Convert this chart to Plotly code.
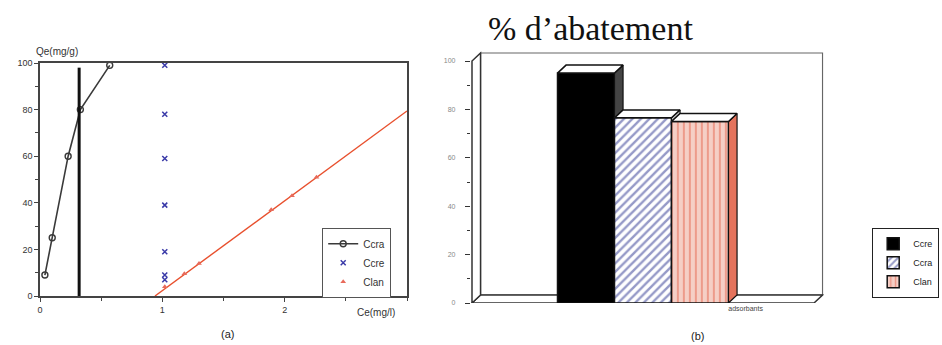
import plotly.graph_objects as go

W, H = 942, 345

# ---- (a) adsorption isotherms: Qe (mg/g) vs Ce (mg/l) ----
ccra_ce = [0.04, 0.10, 0.23, 0.33, 0.57]
ccra_qe = [9, 25, 60, 80, 99]

ccre_ce = [1.02, 1.02, 1.02, 1.02, 1.02, 1.02, 1.02]
ccre_qe = [99, 78, 59, 39, 19, 9, 7]

clan_ce = [1.02, 1.18, 1.30, 1.89, 2.06, 2.26]
clan_qe = [4, 9.5, 14, 37, 43, 51]

# linear fit drawn through the Clan points
clan_fit_ce = [0.94, 3.0]
clan_fit_qe = [0, 79.4]

# vertical reference line
ref_ce = [0.32, 0.32]
ref_qe = [0, 98]

x_ticks_a = [0, 1, 2]
y_ticks_a = [0, 20, 40, 60, 80, 100]

# ---- (b) removal percentage per adsorbent ----
bar_names = ["Ccre", "Ccra", "Clan"]
bar_values = [95, 76.5, 75]
group_label = ["adsorbants"]
y_ticks_b = [0, 20, 40, 60, 80, 100]


def px_x(p):
    return p / W


def px_y(p):
    return 1 - p / H


def poly_path(xs, ys):
    pts = " L ".join(f"{x},{y}" for x, y in zip(xs, ys))
    return f"M {pts} Z"


fig = go.Figure()

# ---------------- panel (a) ----------------
fig.add_trace(go.Scatter(
    x=ccra_ce, y=ccra_qe, name="Ccra", mode="lines+markers",
    line=dict(color="#3a3a3a", width=1.6),
    marker=dict(symbol="circle-open", size=6, color="#3a3a3a", line=dict(width=1.4)),
    cliponaxis=False, xaxis="x", yaxis="y", legend="legend"))
fig.add_trace(go.Scatter(
    x=ccre_ce, y=ccre_qe, name="Ccre", mode="markers",
    marker=dict(symbol="x-thin", size=5, color="#3a3aa8", line=dict(width=1.5, color="#3a3aa8")),
    cliponaxis=False, xaxis="x", yaxis="y", legend="legend"))
fig.add_trace(go.Scatter(
    x=clan_fit_ce, y=clan_fit_qe, mode="lines", showlegend=False,
    line=dict(color="#e8502e", width=1.4), xaxis="x", yaxis="y", hoverinfo="skip"))
fig.add_trace(go.Scatter(
    x=clan_ce, y=clan_qe, name="Clan", mode="markers",
    marker=dict(symbol="triangle-up", size=5, color="#e86a5a"),
    cliponaxis=False, xaxis="x", yaxis="y", legend="legend"))
fig.add_trace(go.Scatter(
    x=ref_ce, y=ref_qe, mode="lines", showlegend=False,
    line=dict(color="#111111", width=3), xaxis="x", yaxis="y", hoverinfo="skip"))

# ---------------- panel (b): pseudo-3D bars ----------------
bar_w = 1.0
dx, dy = 0.15, 3.3          # depth offset of the 3D extrusion (x units, y units)
x_left, x_floor_end = -2.0, 4.0
wall_top = 100 + dy
line_col = "#333333"

# box walls go underneath the bars as shapes
wall_shapes = [
    # back wall
    dict(type="path", xref="x2", yref="y2", layer="below",
         path=poly_path([x_left + dx, x_floor_end + dx, x_floor_end + dx, x_left + dx],
                        [dy, dy, wall_top, wall_top]),
         line=dict(color="#666666", width=1.2), fillcolor="white"),
    # floor
    dict(type="path", xref="x2", yref="y2", layer="below",
         path=poly_path([x_left, x_floor_end, x_floor_end + dx, x_left + dx],
                        [0, 0, dy, dy]),
         line=dict(color=line_col, width=1.5), fillcolor="white"),
    # left wall
    dict(type="path", xref="x2", yref="y2", layer="below",
         path=poly_path([x_left, x_left, x_left + dx, x_left + dx],
                        [0, 100, wall_top, dy]),
         line=dict(color=line_col, width=1.5), fillcolor="white"),
]

front_styles = [
    dict(color="#000000"),
    dict(color="white", pattern=dict(shape="/", fgcolor="#2c3490", bgcolor="white",
                                     size=6, solidity=0.4)),
    dict(color="#f3c6bb", pattern=dict(shape="|", fgcolor="#e35a42", bgcolor="#f5cfc6",
                                       size=6, solidity=0.3)),
]
side_colors = ["#444444", "#dcdcdc", "#e4735c"]

bar_x = list(range(len(bar_values)))
for i, (name, v) in enumerate(zip(bar_names, bar_values)):
    fig.add_trace(go.Bar(
        x=[bar_x[i]], y=[v], width=bar_w, name=name,
        marker=dict(line=dict(color="#111111", width=1.5), **front_styles[i]),
        xaxis="x2", yaxis="y2", legend="legend2"))

for i, v in enumerate(bar_values):
    xl = bar_x[i] - bar_w / 2
    xr = bar_x[i] + bar_w / 2
    # part of the side face not hidden by the next bar
    has_next = i + 1 < len(bar_values)
    v_low = bar_values[i + 1] if has_next else 0
    side_bottom = v_low + dy if has_next else dy
    fig.add_trace(go.Scatter(
        x=[xr, xr, xr + dx, xr + dx, xr],
        y=[v_low, v, v + dy, side_bottom, v_low],
        mode="lines", fill="toself", fillcolor=side_colors[i],
        line=dict(color="#111111", width=1.2), showlegend=False,
        xaxis="x2", yaxis="y2", hoverinfo="skip"))
    # top cap
    fig.add_trace(go.Scatter(
        x=[xl, xr, xr + dx, xl + dx, xl],
        y=[v, v, v + dy, v + dy, v],
        mode="lines", fill="toself", fillcolor="white",
        line=dict(color="#111111", width=1.5), showlegend=False,
        xaxis="x2", yaxis="y2", hoverinfo="skip"))

# pixel geometry of panel (b): 57 px per bar, bar 0 centred at x=586 px
unit_px = 57.0
x2_range = [-2.02, 4.17]
y2_range = [0, 104]
y_px_per = 242 / 100.0
x2_dom = [(586 + x2_range[0] * unit_px) / W, (586 + x2_range[1] * unit_px) / W]
y2_dom = [px_y(303), px_y(303 - y2_range[1] * y_px_per)]

tick_font_a = dict(family="Liberation Sans, Arial", size=9, color="#333333")
label_font = dict(family="Liberation Sans, Arial", size=10, color="#333")


def note(text, x, y, font):
    return dict(text=text, x=px_x(x), y=px_y(y), xref="paper", yref="paper",
                xanchor="center", yanchor="middle", showarrow=False, font=font)


fig.update_layout(
    width=W, height=H,
    margin=dict(l=0, r=0, t=0, b=0, autoexpand=False),
    paper_bgcolor="white", plot_bgcolor="white",
    showlegend=True,
    barmode="overlay",
    shapes=wall_shapes,
    xaxis=dict(domain=[px_x(40), px_x(407)], range=[0, 3], anchor="y",
               tickvals=x_ticks_a, ticks="outside", ticklen=4, tickcolor="#444",
               minor=dict(dtick=0.5, ticks="outside", ticklen=3, tickcolor="#444"),
               showline=True, mirror=True, linecolor="#444444", linewidth=1.5,
               showgrid=False, zeroline=False, tickfont=tick_font_a),
    yaxis=dict(domain=[px_y(296), px_y(63)], range=[0, 100], anchor="x",
               tickvals=y_ticks_a, ticks="outside", ticklen=4, tickcolor="#444",
               minor=dict(dtick=10, ticks="outside", ticklen=3, tickcolor="#444"),
               showline=True, mirror=True, linecolor="#444444", linewidth=1.5,
               showgrid=False, zeroline=False, tickfont=tick_font_a),
    xaxis2=dict(domain=x2_dom, range=x2_range, anchor="y2",
                tickvals=[2.8], ticktext=group_label, ticks="", showline=False,
                showgrid=False, zeroline=False,
                tickfont=dict(family="Liberation Sans, Arial", size=7, color="#444")),
    yaxis2=dict(domain=y2_dom, range=y2_range, anchor="x2",
                tickvals=y_ticks_b, ticks="outside", ticklen=5, tickcolor="#333",
                minor=dict(dtick=10, ticks="outside", ticklen=3, tickcolor="#333"),
                ticklabelstandoff=8,
                showline=False, showgrid=False, zeroline=False,
                tickfont=dict(family="Liberation Sans, Arial", size=7, color="#888")),
    legend=dict(x=px_x(322), y=px_y(228), xanchor="left", yanchor="top",
                bgcolor="white", bordercolor="#555555", borderwidth=1.2,
                font=dict(family="Liberation Sans, Arial", size=10, color="#333"),
                tracegroupgap=0, itemwidth=30),
    legend2=dict(x=px_x(872), y=px_y(228), xanchor="left", yanchor="top",
                 bgcolor="white", bordercolor="#222222", borderwidth=1.2,
                 font=dict(family="Liberation Sans, Arial", size=9, color="#222"),
                 tracegroupgap=0, itemwidth=30),
    annotations=[
        note("Qe(mg/g)", 57, 51, label_font),
        note("Ce(mg/l)", 376, 312, label_font),
        note("(a)", 227, 334, dict(family="Liberation Sans, Arial", size=11, color="#222")),
        note("(b)", 697, 336, dict(family="Liberation Sans, Arial", size=11, color="#222")),
        note("% d’abatement", 590, 28,
             dict(family="Liberation Serif, Times New Roman, serif", size=34, color="#111")),
    ],
)

fig.write_html("out.html")
